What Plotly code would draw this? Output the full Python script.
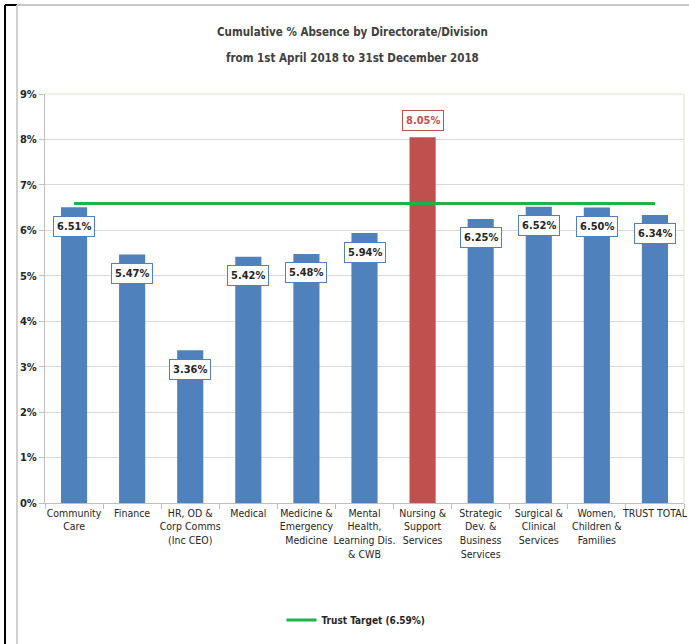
import plotly.graph_objects as go

# Data
divisions = [
    "Community<br>Care", "Finance", "HR, OD &<br>Corp Comms<br>(Inc CEO)", "Medical",
    "Medicine &<br>Emergency<br>Medicine", "Mental<br>Health,<br>Learning Dis.<br>& CWB",
    "Nursing &<br>Support<br>Services", "Strategic<br>Dev. &<br>Business<br>Services",
    "Surgical &<br>Clinical<br>Services", "Women,<br>Children &<br>Families", "TRUST TOTAL",
]
absence_pct = [6.51, 5.47, 3.36, 5.42, 5.48, 5.94, 8.05, 6.25, 6.52, 6.50, 6.34]
trust_target = 6.59
y_ticks = [0, 1, 2, 3, 4, 5, 6, 7, 8, 9]

BLUE = "#4F81BD"
RED = "#C0504D"
GREEN = "#1DB34A"
FONT = "DejaVu Sans Condensed, Liberation Sans Narrow, Arial Narrow, sans-serif"

W, H = 689, 644
ML, MR, MT, MB = 45, 5, 94, 141

bar_colors = [RED if v > 8 else BLUE for v in absence_pct]

fig = go.Figure()

fig.add_trace(go.Bar(
    x=divisions, y=absence_pct,
    marker=dict(color=bar_colors, line=dict(width=0)),
    width=0.45, showlegend=False, hoverinfo="skip",
))

fig.add_trace(go.Scatter(
    x=divisions, y=[trust_target] * len(divisions),
    mode="lines", line=dict(color=GREEN, width=3),
    name=f"<b>Trust Target ({trust_target:.2f}%)</b>",
))

# boxed data labels, inside end for most bars, outside end for the red one
annotations = []
for cat, val, col in zip(divisions, absence_pct, bar_colors):
    above = col == RED
    annotations.append(dict(
        x=cat, y=val, xref="x", yref="y",
        text=f"<b>{val:.2f}%</b>", showarrow=False,
        yshift=17 if above else -19,
        font=dict(family=FONT, size=11, color=RED if above else "#262626"),
        bgcolor="white", bordercolor=col, borderwidth=1, borderpad=3,
    ))

# frame lines around the picture (converted from pixels to paper coords)
pw, ph = W - ML - MR, H - MT - MB
def px(x):
    return (x - ML) / pw
def py(y):
    return (H - MB - y) / ph

# two-line title with the wide line spacing of the original
annotations.append(dict(
    xref="paper", yref="paper", x=px(352), y=py(32), xanchor="center", yanchor="middle",
    text="<b>Cumulative % Absence by Directorate/Division</b>", showarrow=False,
    font=dict(family=FONT, size=11.5, color="#404040"),
))
annotations.append(dict(
    xref="paper", yref="paper", x=px(352), y=py(58), xanchor="center", yanchor="middle",
    text="<b>from 1st April 2018 to 31st December 2018</b>", showarrow=False,
    font=dict(family=FONT, size=11.5, color="#404040"),
))

shapes = [
    dict(type="line", xref="paper", yref="paper", x0=px(5), x1=px(5), y0=py(5), y1=py(H),
         line=dict(color="black", width=2)),
    dict(type="line", xref="paper", yref="paper", x0=px(5), x1=px(17), y0=py(5), y1=py(5),
         line=dict(color="black", width=2)),
    dict(type="line", xref="paper", yref="paper", x0=px(17), x1=px(17), y0=py(5), y1=py(H),
         line=dict(color="#d0d0d0", width=2)),
    dict(type="line", xref="paper", yref="paper", x0=px(17), x1=px(W), y0=py(5), y1=py(5),
         line=dict(color="#c8c8c8", width=2)),
    dict(type="line", xref="paper", yref="paper", x0=0, x1=1, y0=1, y1=1,
         line=dict(color="#dbe9c6", width=1)),
    dict(type="line", xref="paper", yref="paper", x0=1, x1=1, y0=0, y1=1,
         line=dict(color="#dbe9c6", width=1)),
]

fig.update_layout(
    width=W, height=H,
    margin=dict(l=ML, r=MR, t=MT, b=MB),
    paper_bgcolor="white", plot_bgcolor="white",
    font=dict(family=FONT, size=11, color="#262626"),
    bargap=0.55,
    xaxis=dict(
        showgrid=False, showline=True, linecolor="#bfbfbf",
        ticks="outside", tickson="boundaries", ticklen=5, tickcolor="#bfbfbf",
        tickangle=0, tickfont=dict(size=10.5, color="#262626"), automargin=False,
    ),
    yaxis=dict(
        range=[0, 9], tickvals=y_ticks, ticktext=[f"<b>{t}%</b>" for t in y_ticks],
        showgrid=True, gridcolor="#d9d9d9", gridwidth=1,
        showline=True, linecolor="#bfbfbf",
        ticks="outside", ticklen=5, tickcolor="#bfbfbf",
        tickfont=dict(size=11, color="#262626"), zeroline=False, automargin=False,
    ),
    legend=dict(
        orientation="h", x=px(356), xanchor="center", y=py(620), yanchor="middle",
        font=dict(size=10, color="#262626"),
    ),
    annotations=annotations,
    shapes=shapes,
)

# drop the browser's default body margin so the figure sits at the page corner
fig.write_html("out.html", config={"displayModeBar": False},
               post_script="document.body.style.margin = '0';")
